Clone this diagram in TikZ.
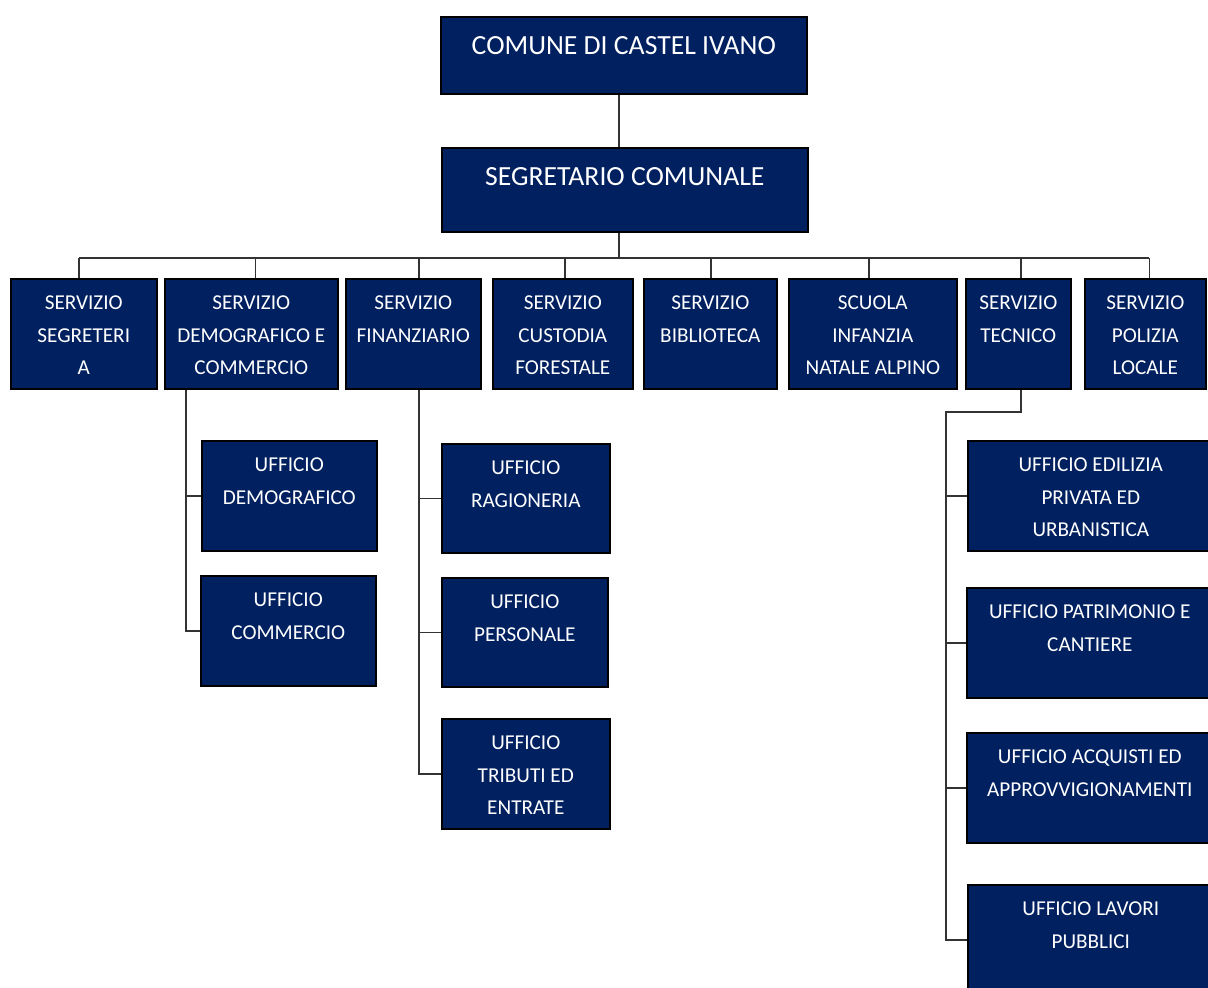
\documentclass[tikz,border=0pt]{standalone}
\usepackage{fontspec}
\setmainfont{Carlito}
\definecolor{navy}{HTML}{002060}
\begin{document}
\begin{tikzpicture}[x=1pt,y=-1pt,
	box/.style={draw=black,line width=1.6pt,fill=navy,anchor=north west,inner sep=0pt},
	txt/.style={anchor=north,inner sep=0pt,text=white,align=center,font=\fontsize{21.2}{32.5}\selectfont,yshift=-18pt},
	bigtxt/.style={anchor=north,inner sep=0pt,text=white,align=center,font=\fontsize{27.7}{34}\selectfont,yshift=-20pt},
	link/.style={draw=black!80,line width=1.6pt}]
	% Page
	\clip (0,0) rectangle (1208,988);
	\fill [white] (0,0) rectangle (1208,988);
	% Top
	\node[box,minimum width=366pt,minimum height=77pt,label={[bigtxt]north:COMUNE DI CASTEL IVANO}] (comune) at (440,16) {};
	\node[box,minimum width=366pt,minimum height=84pt,label={[bigtxt]north:SEGRETARIO COMUNALE}] (segretario) at (441,147) {};
	\coordinate (bus) at (618,258);
	% Servizi
	\node[box,minimum width=146pt,minimum height=110pt,label={[txt]north:SERVIZIO\\SEGRETERI\\A}] (segr) at (10,278) {};
	\node[box,minimum width=173pt,minimum height=110pt,label={[txt]north:SERVIZIO\\DEMOGRAFICO E\\COMMERCIO}] (demo) at (164,278) {};
	\node[box,minimum width=135pt,minimum height=110pt,label={[txt]north:SERVIZIO\\FINANZIARIO}] (fin) at (345,278) {};
	\node[box,minimum width=140pt,minimum height=110pt,label={[txt]north:SERVIZIO\\CUSTODIA\\FORESTALE}] (cust) at (492,278) {};
	\node[box,minimum width=133pt,minimum height=110pt,label={[txt]north:SERVIZIO\\BIBLIOTECA}] (bib) at (643,278) {};
	\node[box,minimum width=168pt,minimum height=110pt,label={[txt]north:SCUOLA\\INFANZIA\\NATALE ALPINO}] (scuola) at (788,278) {};
	\node[box,minimum width=105pt,minimum height=110pt,label={[txt]north:SERVIZIO\\TECNICO}] (tec) at (965,278) {};
	\node[box,minimum width=121pt,minimum height=110pt,label={[txt]north:SERVIZIO\\POLIZIA\\LOCALE}] (pol) at (1084,278) {};
	% Uffici demografico
	\node[box,minimum width=175pt,minimum height=110pt,label={[txt]north:UFFICIO\\DEMOGRAFICO}] (udemo) at (201,440) {};
	\node[box,minimum width=175pt,minimum height=110pt,label={[txt]north:UFFICIO\\COMMERCIO}] (ucomm) at (200,575) {};
	% Uffici finanziario
	\node[box,minimum width=168pt,minimum height=109pt,label={[txt]north:UFFICIO\\RAGIONERIA}] (urag) at (441,443) {};
	\node[box,minimum width=166pt,minimum height=109pt,label={[txt]north:UFFICIO\\PERSONALE}] (upers) at (441,577) {};
	\node[box,minimum width=168pt,minimum height=110pt,label={[txt]north:UFFICIO\\TRIBUTI ED\\ENTRATE}] (utrib) at (441,718) {};
	% Uffici tecnico
	\node[box,minimum width=246pt,minimum height=110pt,label={[txt]north:UFFICIO EDILIZIA\\PRIVATA ED\\URBANISTICA}] (uedil) at (967,440) {};
	\node[box,minimum width=246pt,minimum height=110pt,label={[txt]north:UFFICIO PATRIMONIO E\\CANTIERE}] (upatr) at (966,587) {};
	\node[box,minimum width=246pt,minimum height=110pt,label={[txt]north:UFFICIO ACQUISTI ED\\APPROVVIGIONAMENTI}] (uacq) at (966,732) {};
	\node[box,minimum width=246pt,minimum height=110pt,label={[txt]north:UFFICIO LAVORI\\PUBBLICI}] (ulav) at (967,884) {};
	% Links
	\draw[link] ([xshift=-5pt]comune.south) -- ([xshift=-5pt]comune.south |- segretario.north);
	\draw[link] ([xshift=-6pt]segretario.south) -- ([xshift=-6pt]segretario.south |- bus);
	\draw[link] ([xshift=-5pt]segr.north |- bus) -- ([xshift=4pt]pol.north |- bus);
	\foreach \s/\dx in {segr/-5,demo/4,fin/5.5,cust/2,bib/0.5,scuola/-4,tec/2.5,pol/4}
		\draw[link] ([xshift=\dx pt]\s.north) -- ([xshift=\dx pt]\s.north |- bus);
	%Demografico
	\coordinate (demotrunk) at ([xshift=22pt]demo.south west);
	\draw[link] (demotrunk) |- (ucomm.west);
	\draw[link] (udemo.west) -- (udemo.west -| demotrunk);
	%Finanziario
	\coordinate (fintrunk) at ([xshift=5.5pt]fin.south);
	\draw[link] (fintrunk) |- (utrib.west);
	\draw[link] (urag.west) -- (urag.west -| fintrunk);
	\draw[link] (upers.west) -- (upers.west -| fintrunk);
	%Tecnico
	\coordinate (tecbend) at (946,412);
	\draw[link] ([xshift=2.5pt]tec.south) |- (tecbend) |- (ulav.west);
	\draw[link] (uedil.west) -- (uedil.west -| tecbend);
	\draw[link] (upatr.west) -- (upatr.west -| tecbend);
	\draw[link] (uacq.west) -- (uacq.west -| tecbend);
\end{tikzpicture}
\end{document}
